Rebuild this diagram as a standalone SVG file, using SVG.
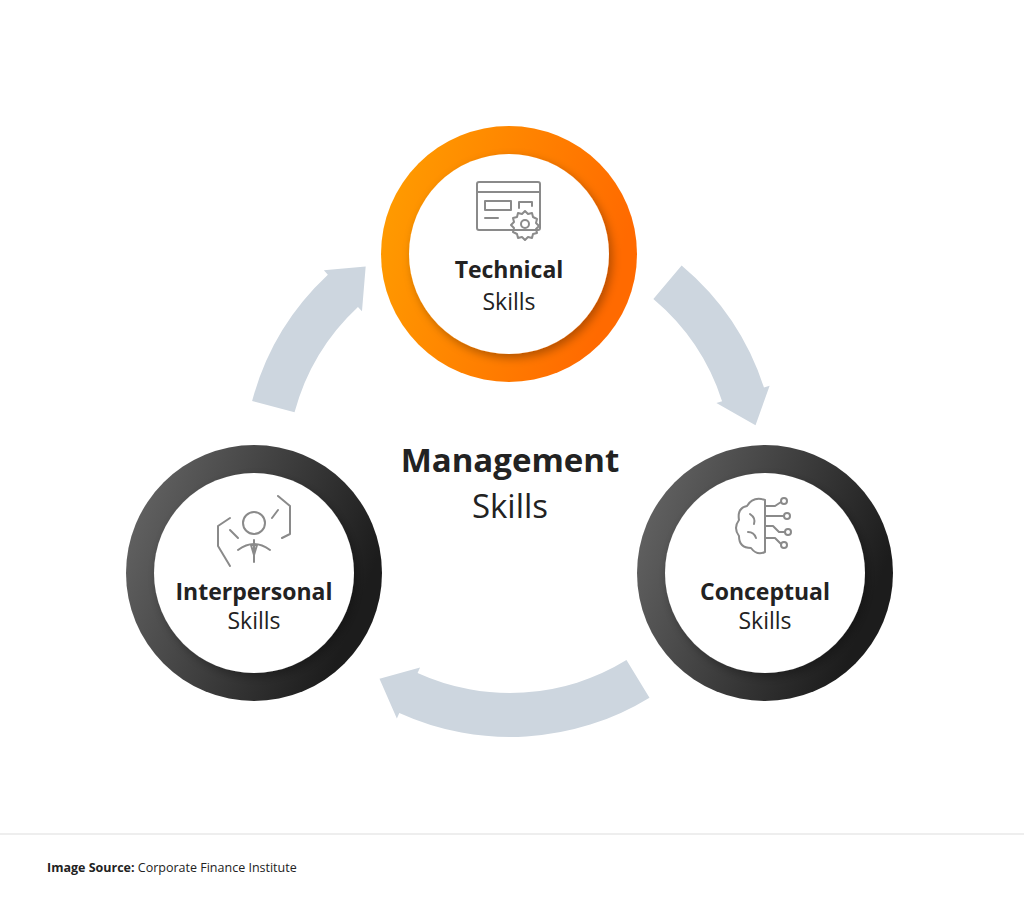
<svg xmlns="http://www.w3.org/2000/svg" width="1024" height="913" viewBox="0 0 1024 913">
<defs>
<linearGradient id="og" x1="0" y1="0" x2="1" y2="0.3"><stop offset="0" stop-color="#FFA000"/><stop offset="1" stop-color="#FF6A00"/></linearGradient>
<linearGradient id="bg" x1="0" y1="0" x2="1" y2="0.4"><stop offset="0" stop-color="#6a6a6a"/><stop offset="1" stop-color="#1c1c1c"/></linearGradient>
<filter id="sh" x="-20%" y="-20%" width="140%" height="140%"><feDropShadow dx="3" dy="4" stdDeviation="5" flood-opacity="0.3"/></filter>
<path id="arr" d="M 250.9,-91.3 A 267 267 0 0 1 261.2,55.5 L 267.0,56.8 L 235,84 L 212.3,45.1 L 218.1,46.4 A 223 223 0 0 0 209.6,-76.3 Z"/>
<path id="arrL" d="M 223.9,-145.4 A 267 267 0 0 1 245.8,104.3 L 251.3,106.6 L 212,125 L 199.7,84.7 L 205.3,87.1 A 223 223 0 0 0 187.0,-121.4 Z"/>
</defs>
<style>
text{font-family:"Open Sans","Noto Sans","Liberation Sans",sans-serif;fill:#222;text-anchor:middle}
.b{font-weight:700}
.ic{fill:none;stroke:#8a8a8a;stroke-width:2;stroke-linecap:round;stroke-linejoin:round}
</style>
<rect width="1024" height="913" fill="#fff"/>
<g id="connectors" fill="#CDD6DF">
<use href="#arr" transform="translate(510,470) rotate(215)"/>
<use href="#arr" transform="translate(510,470) rotate(-30)"/>
<use href="#arrL" transform="translate(510,470) rotate(91.5)"/>
</g>
<g id="technical">
<circle cx="509" cy="254" r="128" fill="url(#og)"/>
<circle cx="509" cy="254" r="100" fill="#fff" filter="url(#sh)"/>
<g class="ic">
<rect x="477" y="182" width="63" height="48" rx="2"/>
<line x1="477" y1="192" x2="540" y2="192"/>
<rect x="485" y="201" width="26" height="9"/>
<line x1="485" y1="218" x2="498" y2="218"/>
<path d="M519 208 v-6 h13 v4"/>
<circle cx="525" cy="224" r="4"/>
<path d="M525 211 l3 3 l4 -1 l1 4 l4 2 l-1 4 l3 3 l-3 3 l1 4 l-4 1 l-1 4 l-4 -1 l-3 3 l-3 -3 l-4 1 l-1 -4 l-4 -2 l1 -4 l-3 -3 l3 -3 l-1 -4 l4 -1 l1 -4 l4 1 z"/>
</g>
<text x="509" y="278" class="b" font-size="23">Technical</text>
<text x="509" y="310" font-size="23">Skills</text>
</g>
<g id="interpersonal">
<circle cx="254" cy="573" r="128" fill="url(#bg)"/>
<circle cx="254" cy="573" r="100" fill="#fff" filter="url(#sh)"/>
<g class="ic">
<circle cx="254" cy="523" r="11"/>
<path d="M238 550 q16 -12 32 0"/>
<path d="M254 540 v22 M251 545 h6 l-3 10 z"/>
<path d="M230 518 l-12 8 v20 l12 20 M230 530 l8 8"/>
<path d="M278 496 l12 10 v28 l-8 4 M278 510 l-6 8"/>
</g>
<text x="254" y="600" class="b" font-size="23">Interpersonal</text>
<text x="254" y="629" font-size="23">Skills</text>
</g>
<g id="conceptual">
<circle cx="765" cy="573" r="128" fill="url(#bg)"/>
<circle cx="765" cy="573" r="100" fill="#fff" filter="url(#sh)"/>
<g class="ic">
<path d="M765 500 q-12 -4 -18 6 q-10 2 -8 14 q-6 8 0 16 q0 12 12 12 q6 8 14 4 z"/>
<path d="M765 506 h10 l6 -4 M765 516 h18 M765 526 h8 l6 6 h6 M765 538 h10 l6 6"/>
<circle cx="784" cy="501" r="3"/><circle cx="787" cy="516" r="3"/><circle cx="788" cy="532" r="3"/><circle cx="784" cy="545" r="3"/>
<path d="M750 514 q6 4 4 10 M748 532 q6 0 8 6"/>
</g>
<text x="765" y="600" class="b" font-size="23">Conceptual</text>
<text x="765" y="629" font-size="23">Skills</text>
</g>
<g id="center">
<text x="510" y="472" class="b" font-size="33">Management</text>
<text x="510" y="518" font-size="33">Skills</text>
</g>
<line x1="0" y1="834" x2="1024" y2="834" stroke="#ddd" stroke-width="1"/>
<text x="47" y="872" font-size="12.5" style="text-anchor:start"><tspan class="b">Image Source:</tspan> Corporate Finance Institute</text>
</svg>
